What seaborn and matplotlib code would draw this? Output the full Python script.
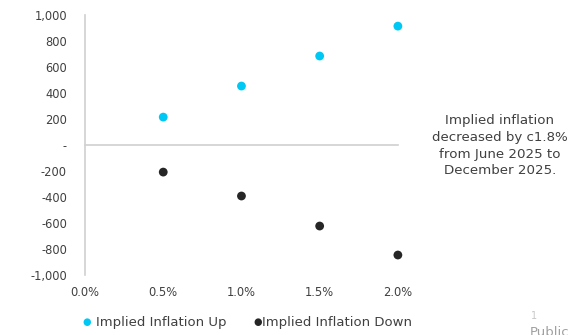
import matplotlib
matplotlib.use("Agg")
import matplotlib.pyplot as plt
import matplotlib.transforms as mtrans
import seaborn as sns
import pandas as pd
from matplotlib.ticker import FuncFormatter

shock = [0.005, 0.010, 0.015, 0.020]
up_vals = [215, 454, 685, 915]
down_vals = [-208, -392, -623, -846]
series_names = ["Implied Inflation Up", "Implied Inflation Down"]
colors = ["#00C8F5", "#262626"]
y_ticks = [1000, 800, 600, 400, 200, 0, -200, -400, -600, -800, -1000]
x_ticks = [0.0, 0.005, 0.010, 0.015, 0.020]

df = pd.DataFrame({
    "shock": shock + shock,
    "value": up_vals + down_vals,
    "series": [series_names[0]] * len(shock) + [series_names[1]] * len(shock),
})

sns.set_style("white")
plt.rcParams["font.family"] = ["DejaVu Sans"]
txt = "#404040"

fig = plt.figure(figsize=(5.8, 3.35), dpi=100)
ax = fig.add_axes([0.1466, 0.179, 0.686 - 0.1466, 0.955 - 0.179])
sns.scatterplot(data=df, x="shock", y="value", hue="series", palette=colors,
                s=40, edgecolor="none", ax=ax, legend=False, clip_on=False, zorder=5)

ax.set_xlim(0, 0.020)
ax.set_ylim(-1000, 1000)
ax.set_yticks(y_ticks)
ax.set_xticks(x_ticks)
ax.yaxis.set_major_formatter(FuncFormatter(lambda v, p: "-" if v == 0 else f"{v:,.0f}"))
ax.set_xticklabels([])
ax.set_xlabel("")
ax.set_ylabel("")
for s in ["top", "right"]:
    ax.spines[s].set_visible(False)
ax.spines["bottom"].set_position(("data", 0))
for s in ["bottom", "left"]:
    ax.spines[s].set_color("#D0D0D0")
    ax.spines[s].set_linewidth(1.2)
ax.tick_params(axis="both", length=0, labelsize=8.3, labelcolor=txt)
ax.tick_params(axis="y", pad=13)

off = mtrans.ScaledTranslation(0, -8 / 72, fig.dpi_scale_trans)
for xv in x_ticks:
    ax.text(xv, -1000, f"{xv*100:.1f}%", transform=ax.transData + off, ha="center", va="top",
            fontsize=8.3, color=txt)

fig.text(0.862, 0.565, "Implied inflation\ndecreased by c1.8%\nfrom June 2025 to\nDecember 2025.",
         ha="center", va="center", fontsize=9.6, color=txt, linespacing=1.36)

# legend
fig.text(0.142, 0.038, "●", color=colors[0], fontsize=7, va="center", ha="left")
fig.text(0.166, 0.038, series_names[0], color=txt, fontsize=9.5, va="center", ha="left")
fig.text(0.437, 0.038, "●", color=colors[1], fontsize=7, va="center", ha="left")
fig.text(0.452, 0.038, series_names[1], color=txt, fontsize=9.5, va="center", ha="left")

fig.text(0.915, 0.057, "1", color="#C8C8C8", fontsize=7, va="center", ha="left")
fig.text(0.913, 0.006, "Public", color="#A0A0A0", fontsize=9.5, va="center", ha="left")

fig.savefig("out.png", dpi=100, facecolor="white")
